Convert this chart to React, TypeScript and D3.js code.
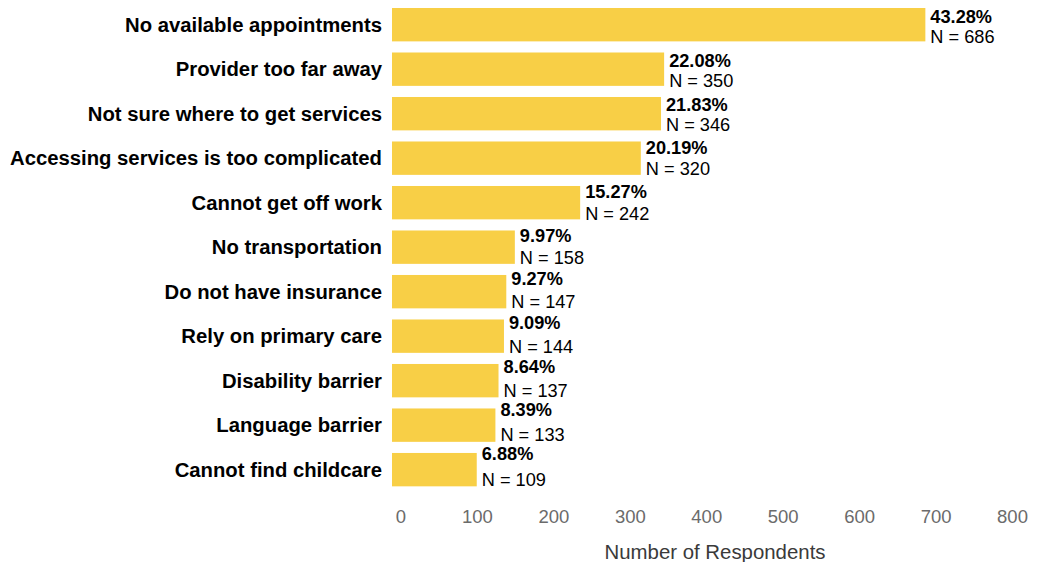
import React from "react";
import * as d3 from "d3";

const categories = [
  "No available appointments",
  "Provider too far away",
  "Not sure where to get services",
  "Accessing services is too complicated",
  "Cannot get off work",
  "No transportation",
  "Do not have insurance",
  "Rely on primary care",
  "Disability barrier",
  "Language barrier",
  "Cannot find childcare",
];
const counts = [686, 350, 346, 320, 242, 158, 147, 144, 137, 133, 109];
const percents = ["43.28%", "22.08%", "21.83%", "20.19%", "15.27%", "9.97%", "9.27%", "9.09%", "8.64%", "8.39%", "6.88%"];
const tickValues = [0, 100, 200, 300, 400, 500, 600, 700, 800];
const axisTitle = "Number of Respondents";

const W = 1047;
const H = 562;
const FONT = "'Liberation Sans', Arial, Helvetica, sans-serif";

export default function App() {
  const x = d3.scaleLinear().domain([0, 800]).range([392, 1014]);
  const xAxis = d3.scaleLinear().domain([0, 800]).range([401, 1012.5]);
  const y = d3
    .scaleBand<string>()
    .domain(categories)
    .range([2.44, 491.9])
    .paddingInner(0.25)
    .paddingOuter(0.125);
  const bw = y.bandwidth();
  // percentage labels sit on a slightly tighter row spacing than the bars
  const yPct = d3.scalePoint<string>().domain(categories).range([23.2, 460]);
  const yN = d3.scalePoint<string>().domain(categories).range([42.5, 485.5]);

  return (
    <svg
      width={W}
      height={H}
      style={{ position: "absolute", left: 0, top: 0, background: "#fff" }}
      fontFamily={FONT}
    >
      {categories.map((c, i) => {
        const y0 = y(c)!;
        const v = counts[i];
        return (
          <g key={c}>
            <rect x={x(0)} y={y0} width={x(v) - x(0)} height={bw} fill="#F8CF46" />
            <text
              x={x(0) - 10}
              y={y0 + bw / 2 + 7.2}
              textAnchor="end"
              fontSize={20.3}
              fontWeight="bold"
              fill="#000"
            >
              {c}
            </text>
            <text x={x(v) + 5} y={yPct(c)!} fontSize={18.2} fontWeight="bold" fill="#000">
              {percents[i]}
            </text>
            <text x={x(v) + 5} y={yN(c)!} fontSize={18.2} fill="#000">
              {`N = ${v}`}
            </text>
          </g>
        );
      })}
      {tickValues.map((t) => (
        <text key={t} x={xAxis(t)} y={523.3} textAnchor="middle" fontSize={18.5} fill="#6b6b6b">
          {t}
        </text>
      ))}
      <text x={715} y={559} textAnchor="middle" fontSize={20.4} fill="#3a3a3a">
        {axisTitle}
      </text>
    </svg>
  );
}
